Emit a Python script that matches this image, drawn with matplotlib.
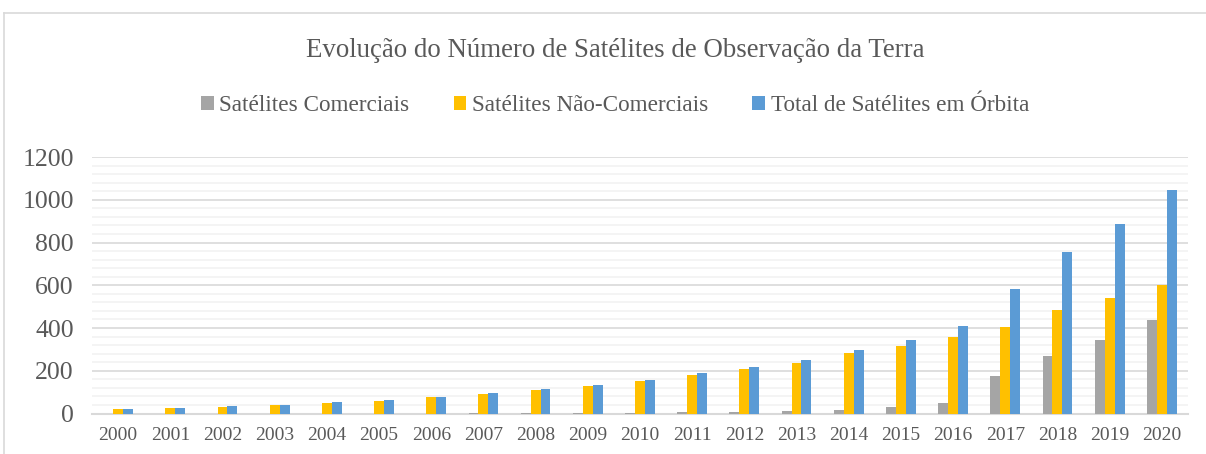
import numpy as np
import matplotlib
matplotlib.use('Agg')
import matplotlib.pyplot as plt
from matplotlib.ticker import MultipleLocator

plt.rcParams['font.family'] = ['Liberation Serif', 'DejaVu Serif']

anos = ['2000', '2001', '2002', '2003', '2004', '2005', '2006', '2007', '2008', '2009', '2010',
        '2011', '2012', '2013', '2014', '2015', '2016', '2017', '2018', '2019', '2020']
comerciais = [0, 0, 0, 0, 0, 0, 0, 1, 2, 3, 4, 5, 8, 11, 16, 30, 51, 175, 267, 343, 439]
nao_comerciais = [22, 27, 31, 39, 51, 58, 75, 91, 108, 127, 152, 180, 206, 237, 281, 314, 359, 405, 486, 539, 602]
total = [23, 28, 33, 39, 53, 61, 78, 95, 113, 133, 159, 189, 217, 250, 298, 345, 411, 584, 756, 885, 1045]

cinza = '#A5A5A5'
amarelo = '#FFC000'
azul = '#5B9BD5'
texto = '#595959'

fig = plt.figure(figsize=(12.06, 4.54), dpi=100)
ax = fig.add_axes([0.0763, 0.0892, 0.9087, 0.5648])

x = np.arange(len(anos))
w = 0.19
ax.bar(x - w, comerciais, w, color=cinza, label='Satélites Comerciais', zorder=3)
ax.bar(x, nao_comerciais, w, color=amarelo, label='Satélites Não-Comerciais', zorder=3)
ax.bar(x + w, total, w, color=azul, label='Total de Satélites em Órbita', zorder=3)

ax.set_xlim(-0.5, len(anos) - 0.5)
ax.set_ylim(0, 1200)
ax.yaxis.set_major_locator(MultipleLocator(200))
ax.yaxis.set_minor_locator(MultipleLocator(40))
ax.grid(axis='y', which='major', color='#D9D9D9', linewidth=1.2, zorder=0)
ax.grid(axis='y', which='minor', color='#F2F2F2', linewidth=1.2, zorder=0)
ax.set_axisbelow(True)
for s in ['top', 'right', 'left']:
    ax.spines[s].set_visible(False)
ax.spines['bottom'].set_color('#D9D9D9')
ax.spines['bottom'].set_linewidth(1.5)
ax.set_xticks(x)
ax.set_xticklabels(anos)
ax.tick_params(axis='x', length=0, labelsize=14, colors=texto, pad=10)
ax.tick_params(axis='y', which='both', length=0, labelsize=18.5, colors=texto, pad=13)

fig.text(0.51, 0.889, 'Evolução do Número de Satélites de Observação da Terra',
         ha='center', va='center', fontsize=19.4, color=texto)
fig.legend(loc='center', bbox_to_anchor=(0.51, 0.768), ncol=3, frameon=False,
           fontsize=16.7, labelcolor=texto, handlelength=0.55, handleheight=0.55,
           handletextpad=0.25, columnspacing=1.9)

# moldura do gráfico
fig.add_artist(plt.Line2D([4 / 1206, 1], [1 - 13 / 454, 1 - 13 / 454], color='#D9D9D9', lw=1.2))
fig.add_artist(plt.Line2D([4 / 1206, 4 / 1206], [0, 1 - 13 / 454], color='#D9D9D9', lw=1.2))

fig.savefig('out.png', dpi=100)
